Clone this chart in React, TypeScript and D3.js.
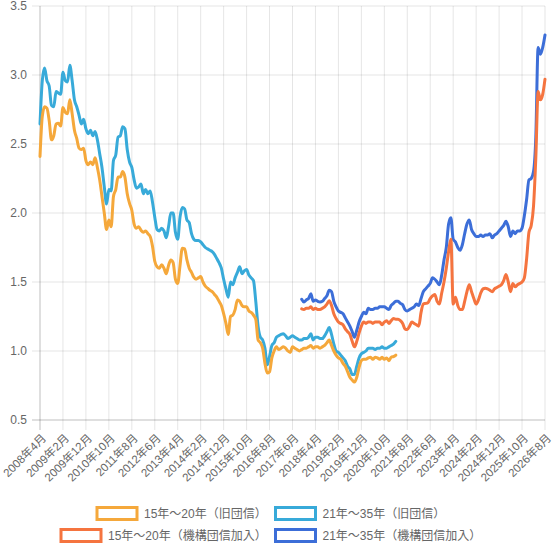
import React from "react";
import * as d3 from "d3";

// ---- data ----
const startYear = 2008;
const startMonth = 4;
const monthCount = 221; // 2008年4月 … 2026年8月

const tickLabels = [
  "2008年4月", "2009年2月", "2009年12月", "2010年10月", "2011年8月", "2012年6月",
  "2013年4月", "2014年2月", "2014年12月", "2015年10月", "2016年8月", "2017年6月",
  "2018年4月", "2019年2月", "2019年12月", "2020年10月", "2021年8月", "2022年6月",
  "2023年4月", "2024年2月", "2024年12月", "2025年10月", "2026年8月",
];

const yTicks = [0.5, 1.0, 1.5, 2.0, 2.5, 3.0, 3.5];

const seriesNames = [
  "15年～20年（旧団信）",
  "21年～35年（旧団信）",
  "15年～20年（機構団信加入）",
  "21年～35年（機構団信加入）",
];
const seriesColors = ["#f5a83b", "#38aad9", "#f5743f", "#3c6ed8"];
const seriesStart = ["2008年4月", "2008年4月", "2017年10月", "2017年10月"];

const rate15Old = [
  2.41, 2.70, 2.77, 2.76, 2.67, 2.53, 2.56, 2.645, 2.65, 2.63,
  2.765, 2.73, 2.72, 2.82, 2.72, 2.60, 2.54, 2.47, 2.46, 2.47,
  2.38, 2.35, 2.37, 2.35, 2.40, 2.33, 2.24, 2.12, 2.00, 1.88,
  1.95, 1.90, 2.12, 2.17, 2.26, 2.26, 2.30, 2.26, 2.14, 2.07,
  2.02, 1.92, 1.89, 1.90, 1.875, 1.86, 1.87, 1.85, 1.83, 1.76,
  1.65, 1.61, 1.60, 1.625, 1.60, 1.56, 1.62, 1.66, 1.64, 1.52,
  1.49, 1.62, 1.745, 1.74, 1.66, 1.60, 1.57, 1.535, 1.52, 1.53,
  1.54, 1.50, 1.47, 1.455, 1.44, 1.43, 1.41, 1.39, 1.36, 1.33,
  1.27, 1.20, 1.12, 1.25, 1.26, 1.30, 1.37, 1.36, 1.33, 1.32,
  1.32, 1.29, 1.28, 1.26, 1.23, 1.08, 1.06, 1.02, 0.91, 0.84,
  0.85, 0.95, 1.00, 1.03, 1.01, 1.02, 1.03, 1.02, 1.00, 0.99,
  1.03, 1.02, 1.01, 1.00, 1.01, 1.02, 1.02, 1.03, 1.04, 1.02,
  1.03, 1.03, 1.02, 1.03, 1.04, 1.06, 1.08, 1.04, 1.00, 0.97,
  0.95, 0.94, 0.91, 0.89, 0.85, 0.81, 0.79, 0.775, 0.81, 0.88,
  0.93, 0.94, 0.94, 0.95, 0.955, 0.94, 0.955, 0.95, 0.94, 0.955,
  0.94, 0.95, 0.93, 0.955, 0.96, 0.97,
];

const rate21Old = [
  2.645, 2.96, 3.05, 2.96, 2.92, 2.78, 2.77, 2.88, 2.87, 2.86,
  3.02, 2.96, 2.95, 3.07, 2.96, 2.82, 2.77, 2.71, 2.645, 2.68,
  2.61, 2.575, 2.60, 2.56, 2.59, 2.53, 2.43, 2.33, 2.19, 2.065,
  2.17, 2.16, 2.38, 2.42, 2.55, 2.56, 2.625, 2.61, 2.46, 2.37,
  2.33, 2.24, 2.18, 2.19, 2.21, 2.14, 2.17, 2.14, 2.16, 2.08,
  1.97, 1.88, 1.87, 1.89, 1.87, 1.82, 1.90, 2.00, 2.00, 1.86,
  1.81, 1.97, 2.04, 2.03, 1.95, 1.93, 1.85, 1.81, 1.80, 1.80,
  1.79, 1.77, 1.75, 1.74, 1.73, 1.72, 1.70, 1.67, 1.64, 1.60,
  1.52, 1.45, 1.39, 1.50, 1.48, 1.53, 1.57, 1.61, 1.56, 1.58,
  1.59, 1.55, 1.53, 1.51, 1.36, 1.18, 1.10, 1.08, 1.02, 0.90,
  0.96, 1.04, 1.06, 1.10, 1.11, 1.12, 1.125, 1.11, 1.09, 1.10,
  1.11, 1.10, 1.09, 1.08, 1.08, 1.09, 1.09, 1.10, 1.125, 1.08,
  1.10, 1.10, 1.09, 1.09, 1.11, 1.14, 1.17, 1.12, 1.05, 1.00,
  0.99, 0.97, 0.95, 0.93, 0.89, 0.87, 0.83, 0.83, 0.89, 0.95,
  0.98, 0.99, 1.00, 1.02, 1.02, 1.02, 1.01, 1.02, 1.02, 1.03,
  1.02, 1.02, 1.03, 1.04, 1.05, 1.07,
];

const rate15New = [
  1.305, 1.30, 1.31, 1.31, 1.32, 1.30, 1.31, 1.30, 1.30, 1.31,
  1.32, 1.34, 1.365, 1.33, 1.27, 1.235, 1.21, 1.20, 1.19, 1.16,
  1.14, 1.12, 1.07, 1.03, 1.07, 1.13, 1.18, 1.21, 1.20, 1.21,
  1.21, 1.20, 1.21, 1.21, 1.21, 1.19, 1.21, 1.22, 1.20, 1.22,
  1.235, 1.23, 1.23, 1.22, 1.20, 1.16, 1.155, 1.18, 1.21, 1.20,
  1.19, 1.18, 1.28, 1.34, 1.345, 1.35, 1.38, 1.40, 1.41, 1.36,
  1.34, 1.42, 1.50, 1.60, 1.72, 1.81, 1.34, 1.39, 1.33, 1.30,
  1.30, 1.36, 1.43, 1.48, 1.43, 1.38, 1.34, 1.37, 1.42, 1.45,
  1.455, 1.45, 1.44, 1.43, 1.45, 1.46, 1.47, 1.48, 1.51, 1.555,
  1.50, 1.43, 1.49, 1.465, 1.48, 1.49, 1.50, 1.53, 1.67, 1.86,
  1.91, 2.05, 2.40, 2.88, 2.82, 2.86, 2.97,
];

const rate21New = [
  1.375, 1.355, 1.37, 1.38, 1.415, 1.36, 1.37, 1.36, 1.355, 1.36,
  1.38, 1.40, 1.44, 1.43, 1.36, 1.32, 1.29, 1.28, 1.27, 1.24,
  1.21, 1.18, 1.14, 1.10, 1.15, 1.21, 1.25, 1.28, 1.27, 1.31,
  1.30, 1.30, 1.31, 1.31, 1.32, 1.32, 1.32, 1.31, 1.30, 1.33,
  1.345, 1.36, 1.36, 1.345, 1.335, 1.30, 1.29, 1.30, 1.31, 1.32,
  1.34, 1.33, 1.38, 1.43, 1.45, 1.47, 1.49, 1.53, 1.52, 1.50,
  1.48, 1.55, 1.66, 1.75, 1.92, 1.965, 1.81, 1.79, 1.75, 1.73,
  1.77, 1.85, 1.92, 1.95, 1.88, 1.85, 1.83, 1.83, 1.84, 1.83,
  1.84, 1.84, 1.85, 1.82, 1.84, 1.85, 1.87, 1.89, 1.91, 1.94,
  1.90, 1.83, 1.87, 1.85, 1.87, 1.87, 1.89, 1.98, 2.10, 2.24,
  2.25, 2.30, 2.55, 3.20, 3.15, 3.20, 3.29,
];

const seriesValues = [rate15Old, rate21Old, rate15New, rate21New];

// ---- layout ----
const W = 552;
const H = 552;
const plot = { left: 40, right: 545, top: 6, bottom: 420 };
const legendPos = [
  { x: 97, y: 507.5 },
  { x: 275.5, y: 507.5 },
  { x: 61, y: 529.5 },
  { x: 275.5, y: 529.5 },
];
const FONT = "'Liberation Sans', Arial, 'Noto Sans CJK JP', sans-serif";
const TEXT = "#666";

const months: string[] = [];
for (let k = 0; k < monthCount; k++) {
  const t = startMonth - 1 + k;
  months.push(`${startYear + Math.floor(t / 12)}年${(t % 12) + 1}月`);
}

export default function App() {
  const x = d3.scalePoint<string>().domain(months).range([plot.left, plot.right]);
  const y = d3.scaleLinear().domain([0.5, 3.5]).range([plot.bottom, plot.top]);

  const line = d3
    .line<{ m: string; v: number }>()
    .x((d) => x(d.m) as number)
    .y((d) => y(d.v))
    .curve(d3.curveMonotoneX);

  const paths = seriesValues.map((vals, s) => {
    const off = months.indexOf(seriesStart[s]);
    const pts = vals.map((v, k) => ({ m: months[off + k], v }));
    return line(pts) || "";
  });

  const grid = "rgba(0,0,0,0.1)";
  const axisLine = "rgba(0,0,0,0.25)";

  return (
    <svg
      width={W}
      height={H}
      style={{ position: "absolute", left: 0, top: 0, background: "#fff" }}
      fontFamily={FONT}
    >
      {/* horizontal grid */}
      {yTicks.map((t) => (
        <g key={"y" + t}>
          <line
            x1={plot.left - 8}
            x2={plot.right}
            y1={y(t)}
            y2={y(t)}
            stroke={t === yTicks[0] ? axisLine : grid}
            strokeWidth={1}
          />
          <text x={27} y={y(t)} dy="0.35em" textAnchor="end" fontSize={12} fill={TEXT}>
            {t.toFixed(1)}
          </text>
        </g>
      ))}
      {/* vertical grid */}
      {tickLabels.map((lab, i) => {
        const xx = x(lab) as number;
        return (
          <g key={"x" + lab}>
            <line
              x1={xx}
              x2={xx}
              y1={plot.top}
              y2={plot.bottom + 10}
              stroke={i === 0 ? axisLine : grid}
              strokeWidth={1}
            />
            <text
              transform={`translate(${xx + 4},${plot.bottom + 16}) rotate(-45)`}
              dy="0.35em"
              textAnchor="end"
              fontSize={11.5}
              fill={TEXT}
            >
              {lab}
            </text>
          </g>
        );
      })}
      {/* lines, first dataset drawn on top */}
      {paths
        .map((d, s) => (
          <path
            key={"p" + s}
            d={d}
            fill="none"
            stroke={seriesColors[s]}
            strokeWidth={3}
            strokeLinejoin="round"
            strokeLinecap="round"
          />
        ))
        .reverse()}
      {/* legend */}
      {seriesNames.map((name, s) => (
        <g key={"l" + s}>
          <rect
            x={legendPos[s].x}
            y={legendPos[s].y}
            width={40}
            height={12}
            fill="#fff"
            stroke={seriesColors[s]}
            strokeWidth={3}
          />
          <text
            x={legendPos[s].x + 47}
            y={legendPos[s].y + 6}
            dy="0.35em"
            fontSize={12}
            fill={TEXT}
          >
            {name}
          </text>
        </g>
      ))}
    </svg>
  );
}
